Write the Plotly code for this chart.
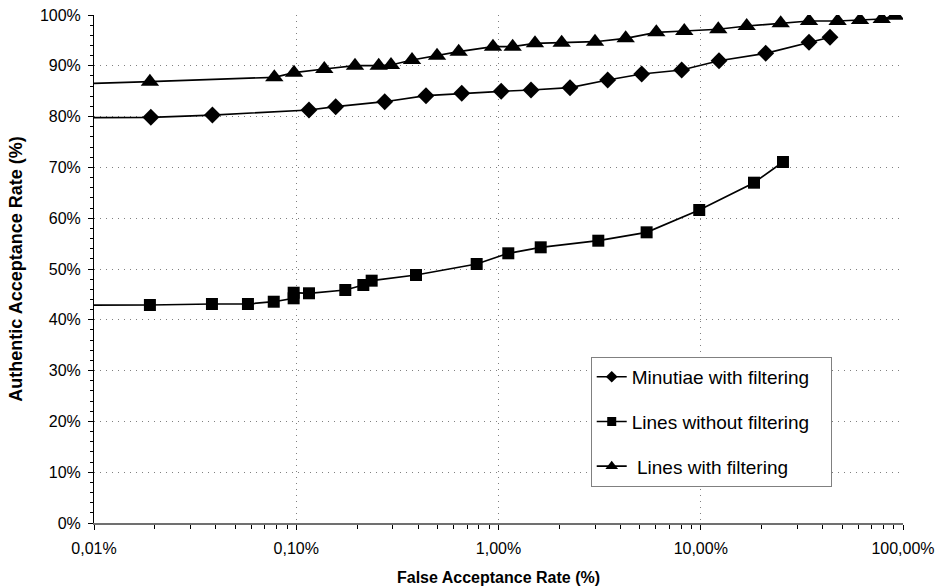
import plotly.graph_objects as go

# False acceptance rate (%) and authentic acceptance rate (%) per series
far_minutiae = [0.005, 0.0191, 0.0385, 0.1156, 0.1567, 0.2738, 0.438, 0.658, 1.031, 1.448,
                2.257, 3.467, 5.105, 8.05, 12.31, 20.95, 34.3, 43.55]
aar_minutiae = [79.7, 79.86, 80.31, 81.3, 81.95, 82.93, 84.11, 84.59, 84.98, 85.24,
                85.69, 87.2, 88.39, 89.17, 91.0, 92.46, 94.63, 95.61]

far_lines_nofilt = [0.005, 0.0189, 0.0383, 0.0577, 0.0774, 0.0971, 0.0971, 0.1156, 0.1748, 0.2146,
                    0.236, 0.391, 0.78, 1.118, 1.617, 3.115, 5.40, 9.83, 18.34, 25.5]
aar_lines_nofilt = [42.9, 42.91, 43.11, 43.11, 43.56, 44.23, 45.33, 45.22, 45.87, 46.85,
                    47.7, 48.82, 50.98, 53.09, 54.27, 55.57, 57.22, 61.61, 66.99, 71.06]

far_lines_filt = [0.005, 0.0189, 0.0779, 0.0975, 0.1376, 0.1952, 0.2557, 0.2941, 0.3736, 0.4966,
                  0.6356, 0.939, 1.175, 1.515, 2.053, 3.0, 4.255, 6.03, 8.29, 12.21,
                  16.87, 24.85, 34.3, 47.5, 61.3, 78.5, 91.3]
aar_lines_filt = [86.2, 86.87, 87.74, 88.64, 89.37, 90.02, 90.02, 90.16, 91.14, 91.99,
                  92.78, 93.76, 93.76, 94.43, 94.55, 94.74, 95.41, 96.59, 96.85, 97.19,
                  97.83, 98.37, 98.82, 98.82, 99.02, 99.21, 99.86]

series_names = ["Minutiae with filtering", "Lines without filtering\u00a0\u00a0\u00a0",
                "\u00a0Lines with filtering"]

x_tickvals = [0.01, 0.1, 1, 10, 100]
x_ticktext = ["0,01%", "0,10%", "1,00%", "10,00%", "100,00%"]
y_tickvals = [0, 10, 20, 30, 40, 50, 60, 70, 80, 90, 100]
y_ticktext = [f"{v}%" for v in y_tickvals]

FONT = "Liberation Sans, Arial, sans-serif"

fig = go.Figure()

specs = [
    (far_minutiae, aar_minutiae, "diamond", 13, series_names[0]),
    (far_lines_nofilt, aar_lines_nofilt, "square", 12, series_names[1]),
    (far_lines_filt, aar_lines_filt, "triangle-up", 16, series_names[2]),
]

for xs, ys, sym, size, name in specs:
    fig.add_trace(go.Scatter(
        x=xs, y=ys, mode="lines+markers", showlegend=False,
        line=dict(color="black", width=1.7),
        marker=dict(symbol=sym, size=size, color="black"),
    ))

for i, (xs, ys, sym, size, name) in enumerate(specs):
    fig.add_trace(go.Scatter(
        x=[None], y=[None], mode="lines+markers", name=name,
        legendgroup=f"g{i}",
        line=dict(color="black", width=1.6),
        marker=dict(symbol=sym, size=9 if sym != "triangle-up" else 11, color="black"),
    ))

fig.update_layout(
    width=947, height=586,
    margin=dict(l=94, r=44, t=15, b=63),
    paper_bgcolor="white", plot_bgcolor="white",
    font=dict(family=FONT, color="black", size=16),
    legend=dict(
        x=0.614, y=0.327, xanchor="left", yanchor="top",
        bordercolor="#808080", borderwidth=1, bgcolor="white",
        font=dict(size=19, family=FONT, color="black"),
        tracegroupgap=17, itemwidth=30,
    ),
)

grid_dash = "1px,5px"

fig.update_xaxes(
    type="log", range=[-2, 2], automargin=False,
    tickvals=x_tickvals, ticktext=x_ticktext,
    showgrid=True, gridcolor="#808080", griddash=grid_dash, gridwidth=1,
    showline=True, linecolor="#707070", linewidth=2,
    ticks="outside", ticklen=5, tickcolor="black",
    minor=dict(tickvals=[m * 10 ** e for e in range(-2, 2) for m in range(2, 10)],
               ticks="outside", ticklen=4, tickcolor="black", showgrid=False),
    tickfont=dict(size=16, family=FONT), ticklabelstandoff=5,
    title=dict(text="<b>False Acceptance Rate (%)</b>", font=dict(size=16, family=FONT), standoff=16),
    zeroline=False,
)

fig.update_yaxes(
    range=[0, 100], automargin=False,
    tickvals=y_tickvals, ticktext=y_ticktext,
    showgrid=True, gridcolor="#808080", griddash=grid_dash, gridwidth=1,
    showline=True, linecolor="black", linewidth=1,
    ticks="outside", ticklen=5, tickcolor="black",
    minor=dict(dtick=2, ticks="outside", ticklen=3, tickcolor="black", showgrid=False),
    tickfont=dict(size=16, family=FONT), ticklabelstandoff=4,
    title=dict(text="<b>Authentic Acceptance Rate (%)</b>", font=dict(size=18, family=FONT), standoff=12),
    zeroline=False,
)

fig.write_html("out.html", config={"displayModeBar": False},
               post_script="document.body.style.margin='0';document.body.style.overflow='hidden';")
